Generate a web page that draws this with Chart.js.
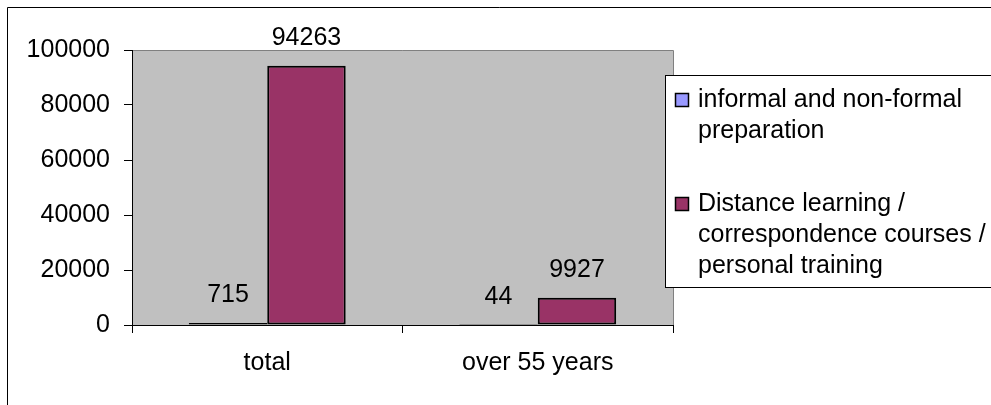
<!DOCTYPE html>
<html>
<head>
<meta charset="utf-8">
<script src="https://cdn.jsdelivr.net/npm/chart.js@4/dist/chart.umd.min.js"></script>
<style>
  html, body { margin: 0; padding: 0; background: #fff; }
  canvas { display: block; }
</style>
</head>
<body>
<canvas id="chart" width="991" height="405"></canvas>
<script>
// Chart data
const categories = ['total', 'over 55 years'];
const seriesNames = [
    ['informal and non-formal', 'preparation'],
    ['Distance learning /', 'correspondence courses /', 'personal training']
];
const informalValues = [715, 44];
const distanceValues = [94263, 9927];
const yTicks = [0, 20000, 40000, 60000, 80000, 100000];

const FONT = "'Liberation Sans', Arial, sans-serif";
const FONT_SIZE = 25;

// grey plot area + outer frame
const backdrop = {
    id: 'backdrop',
    beforeDraw(chart) {
        const { ctx, chartArea: a } = chart;
        ctx.save();
        ctx.fillStyle = '#fff';
        ctx.fillRect(0, 0, chart.width, chart.height);
        ctx.strokeStyle = '#000';
        ctx.lineWidth = 1;
        ctx.beginPath();
        ctx.moveTo(7.5, chart.height);
        ctx.lineTo(7.5, 7.5);
        ctx.lineTo(chart.width, 7.5);
        ctx.stroke();
        ctx.fillStyle = '#C0C0C0';
        ctx.fillRect(a.left, a.top, a.right - a.left, a.bottom - a.top);
        ctx.strokeStyle = '#808080';
        ctx.beginPath();
        ctx.moveTo(a.left, a.top + 0.5);
        ctx.lineTo(a.right + 0.5, a.top + 0.5);
        ctx.lineTo(a.right + 0.5, a.bottom);
        ctx.stroke();
        ctx.restore();
    }
};

// value labels above bars
const valueLabels = {
    id: 'valueLabels',
    afterDatasetsDraw(chart) {
        const ctx = chart.ctx;
        ctx.save();
        ctx.font = FONT_SIZE + 'px ' + FONT;
        ctx.fillStyle = '#000';
        ctx.textAlign = 'center';
        ctx.textBaseline = 'alphabetic';
        chart.data.datasets.forEach((ds, i) => {
            chart.getDatasetMeta(i).data.forEach((bar, j) => {
                ctx.fillText(String(ds.data[j]), bar.x, bar.y - 21);
            });
        });
        ctx.restore();
    }
};

// Excel style legend box on the right
const boxLegend = {
    id: 'boxLegend',
    afterDraw(chart) {
        const ctx = chart.ctx;
        const left = 665.5, top = 75.5, bottom = 287.5;
        ctx.save();
        ctx.fillStyle = '#fff';
        ctx.fillRect(left, top, chart.width - left + 10, bottom - top);
        ctx.strokeStyle = '#000';
        ctx.lineWidth = 1;
        ctx.strokeRect(left, top, chart.width - left + 10, bottom - top);
        ctx.font = FONT_SIZE + 'px ' + FONT;
        ctx.textBaseline = 'middle';
        ctx.textAlign = 'left';
        const starts = [100, 204];
        chart.data.datasets.forEach((ds, i) => {
            const y = starts[i];
            ctx.fillStyle = ds.backgroundColor;
            ctx.fillRect(675.5, y - 6.5, 13, 13);
            ctx.strokeStyle = '#000';
            ctx.lineWidth = 1.5;
            ctx.strokeRect(675.5, y - 6.5, 13, 13);
            ctx.fillStyle = '#000';
            ds.label.forEach((line, k) => {
                ctx.fillText(line, 698, y + k * 31);
            });
        });
        ctx.restore();
    }
};

const ctx = document.getElementById('chart').getContext('2d');
const chart = new Chart(ctx, {
    type: 'bar',
    data: {
        labels: categories,
        datasets: [
            {
                label: seriesNames[0],
                data: informalValues,
                backgroundColor: '#9999FF',
                borderColor: '#000',
                borderWidth: 2,
                borderSkipped: false
            },
            {
                label: seriesNames[1],
                data: distanceValues,
                backgroundColor: '#993366',
                borderColor: '#000',
                borderWidth: 2,
                borderSkipped: false
            }
        ]
    },
    options: {
        responsive: false,
        animation: false,
        events: [],
        categoryPercentage: 0.58,
        barPercentage: 1,
        layout: { padding: { left: 0, top: 50, right: 318, bottom: 0 } },
        plugins: {
            legend: { display: false },
            tooltip: { enabled: false }
        },
        scales: {
            x: {
                grid: { display: true, drawOnChartArea: false, drawTicks: true, tickLength: 8, color: '#000', offset: true },
                border: { display: true, color: '#000', width: 1 },
                ticks: { color: '#000', font: { family: FONT, size: FONT_SIZE }, padding: 15, maxRotation: 0 },
                afterFit(scale) { scale.height = 80; }
            },
            y: {
                min: 0,
                max: 100000,
                grid: { display: true, drawOnChartArea: false, drawTicks: true, tickLength: 8, color: '#000' },
                border: { display: true, color: '#000', width: 1 },
                afterBuildTicks(scale) { scale.ticks = yTicks.map(v => ({ value: v })); },
                ticks: {
                    color: '#000',
                    font: { family: FONT, size: FONT_SIZE },
                    padding: 14,
                    callback: v => String(v)
                },
                afterFit(scale) { scale.width = 132; }
            }
        }
    },
    plugins: [backdrop, valueLabels, boxLegend]
});
</script>
</body>
</html>
